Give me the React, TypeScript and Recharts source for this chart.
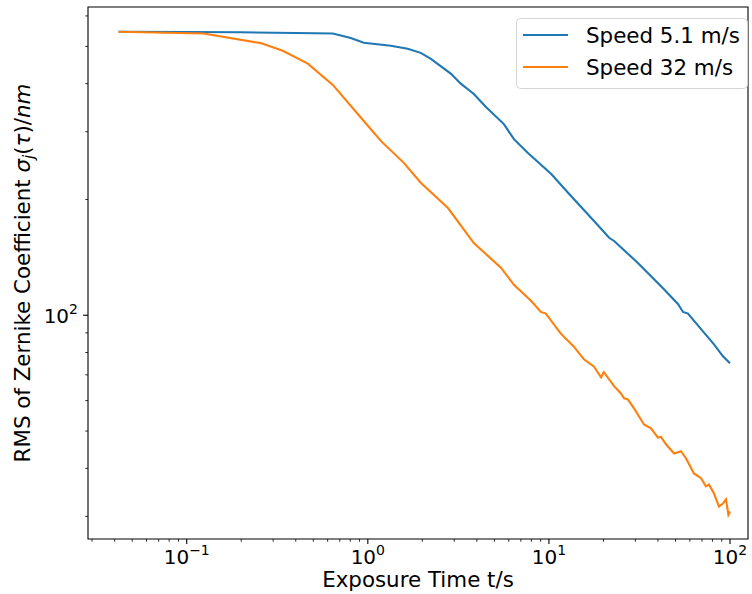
import { LineChart, Line, XAxis, YAxis, ReferenceArea, Legend } from "recharts";

const FONT = "DejaVu Sans";
const BLUE = "#1f77b4";
const ORANGE = "#ff7f0e";

// exposure time (s) and RMS (nm)
const slowT = [0.042, 0.1, 0.2, 0.4, 0.641, 0.805, 0.95, 1.34, 1.66, 1.96, 2.23, 2.87, 3.26, 3.85, 4.49, 5.64, 6.41, 7.66, 10.3, 12.9, 17.7, 21.5, 22.9, 31.4, 41.6, 51.6, 55, 58.6, 69.2, 81.6, 91.4, 100];
const slowV = [546, 545, 544, 542, 540, 526, 511, 502, 493, 481, 464, 425, 400, 376, 348, 314, 287, 264, 233, 207, 176, 159, 156, 136, 119, 107, 102, 101, 92, 84, 78.2, 75];

const fastT = [0.042, 0.124, 0.256, 0.339, 0.466, 0.641, 0.95, 1.18, 1.58, 1.96, 2.77, 3.85, 5.43, 6.41, 7.96, 9.03, 9.62, 11.6, 13.7, 15.6, 17.7, 19.4, 20.1, 22.9, 25.0, 26.0, 27.3, 29.5, 33.5, 36.6, 40.0, 41.6, 44.3, 49.1, 53.6, 57.1, 63.2, 69.2, 73.6, 76.5, 81.6, 86.9, 91.4, 95.0, 98.0, 100];
const fastV = [546, 540, 510, 487, 451, 397, 320, 284, 249, 221, 190, 154, 133, 120, 109, 102, 101, 89.7, 83, 76.8, 73.6, 69.0, 71.1, 65.4, 62.6, 60.8, 60.4, 57.3, 52.0, 50.8, 48.1, 48.3, 46.2, 43.7, 44.3, 42.5, 38.8, 37.7, 35.9, 36.3, 34.4, 31.8, 32.4, 33.2, 30.3, 30.9];

const xTicks = [0.03, 0.04, 0.05, 0.06, 0.07, 0.08, 0.09, 0.1, 0.2, 0.3, 0.4, 0.5, 0.6, 0.7, 0.8, 0.9, 1, 2, 3, 4, 5, 6, 7, 8, 9, 10, 20, 30, 40, 50, 60, 70, 80, 90, 100];
const yTicks = [30, 40, 50, 60, 70, 80, 90, 100, 200, 300, 400, 500, 600];

const seriesNames = ["Speed 5.1 m/s", "Speed 32 m/s"];

const slow = slowT.map((t, i) => ({ t, v: slowV[i] }));
const fast = fastT.map((t, i) => ({ t, v: fastV[i] }));

const X_DOMAIN: [number, number] = [0.0285, 125.7];
const Y_DOMAIN: [number, number] = [26.2, 633];

const isMajor = (v: number) => Math.abs(Math.log10(v) - Math.round(Math.log10(v))) < 1e-6;
const expText = (v: number) => String(Math.round(Math.log10(v))).replace("-", "\u2212");

function XTick(props: any) {
  const { x, y, payload } = props;
  const major = isMajor(payload.value);
  return (
    <g>
      <line x1={x} x2={x} y1={y} y2={y + (major ? 4.9 : 2.8)} stroke="#000" strokeWidth={major ? 1.1 : 0.8} />
      {major && (
        <text x={x} y={y + 24.5} textAnchor="middle" fontFamily={FONT} fontSize={20} fill="#000">
          <tspan>10</tspan>
          <tspan dy={-8.5} fontSize={14}>{expText(payload.value)}</tspan>
        </text>
      )}
    </g>
  );
}

function YTick(props: any) {
  const { x, y, payload } = props;
  const major = isMajor(payload.value);
  return (
    <g>
      <line x1={x} x2={x - (major ? 4.9 : 2.8)} y1={y} y2={y} stroke="#000" strokeWidth={major ? 1.1 : 0.8} />
      {major && (
        <text x={x - 10} y={y + 7.5} textAnchor="end" fontFamily={FONT} fontSize={20} fill="#000">
          <tspan>10</tspan>
          <tspan dy={-8.5} fontSize={14}>{expText(payload.value)}</tspan>
        </text>
      )}
    </g>
  );
}

function LegendBox() {
  const colors = [BLUE, ORANGE];
  return (
    <svg width={232} height={71} style={{ display: "block" }}>
      <rect x={0.5} y={0.5} width={231} height={70} rx={4} fill="#fff" fillOpacity={0.8} stroke="#d5d5d5" strokeWidth={1} />
      {seriesNames.map((name, i) => (
        <g key={name}>
          <line x1={7} x2={52} y1={17 + i * 32} y2={17 + i * 32} stroke={colors[i]} strokeWidth={2.1} />
          <text x={70} y={24.5 + i * 32} fontFamily={FONT} fontSize={21.4} fill="#000">{name}</text>
        </g>
      ))}
    </svg>
  );
}

export default function App() {
  return (
    <div style={{ position: "absolute", left: 0, top: 0, width: 752, height: 594, background: "#fff" }}>
      <LineChart width={752} height={594} margin={{ top: 7, right: 4, bottom: 0, left: 0 }}>
        <XAxis
          dataKey="t"
          type="number"
          scale="log"
          domain={X_DOMAIN}
          allowDataOverflow
          ticks={xTicks}
          interval={0}
          tick={<XTick />}
          tickLine={false}
          axisLine={false}
          tickSize={0}
          tickMargin={0}
          height={55}
          label={{
            content: (p: any) => (
              <text x={p.viewBox.x + p.viewBox.width / 2} y={p.viewBox.y + 48} textAnchor="middle" fontFamily={FONT} fontSize={21.4} fill="#000">
                Exposure Time t/s
              </text>
            ),
          }}
        />
        <YAxis
          dataKey="v"
          type="number"
          scale="log"
          domain={Y_DOMAIN}
          allowDataOverflow
          ticks={yTicks}
          interval={0}
          tick={<YTick />}
          tickLine={false}
          axisLine={false}
          tickSize={0}
          tickMargin={0}
          width={88}
          label={{
            content: (p: any) => {
              const cx = 30;
              const cy = p.viewBox.y + p.viewBox.height / 2;
              return (
                <text x={cx} y={cy} transform={`rotate(-90, ${cx}, ${cy})`} textAnchor="middle" fontFamily={FONT} fontSize={21.4} fill="#000">
                  <tspan>RMS of Zernike Coefficient </tspan>
                  <tspan fontStyle="italic">σ</tspan>
                  <tspan fontStyle="italic" fontSize={15} dy={4}>j</tspan>
                  <tspan dy={-4}>(</tspan>
                  <tspan fontStyle="italic">τ</tspan>
                  <tspan>)/</tspan>
                  <tspan fontStyle="italic">nm</tspan>
                </text>
              );
            },
          }}
        />
        <Line data={slow} dataKey="v" name={seriesNames[0]} stroke={BLUE} strokeWidth={2.1} dot={false} isAnimationActive={false} />
        <Line data={fast} dataKey="v" name={seriesNames[1]} stroke={ORANGE} strokeWidth={2.1} dot={false} isAnimationActive={false} />
        <ReferenceArea x1={X_DOMAIN[0]} x2={X_DOMAIN[1]} y1={Y_DOMAIN[0]} y2={Y_DOMAIN[1]} fill="none" stroke="#000" strokeWidth={1.1} fillOpacity={0} strokeOpacity={1} />
        <Legend
          layout="horizontal"
          verticalAlign="middle"
          align="center"
          content={() => <LegendBox />}
          wrapperStyle={{ position: "absolute", left: 516, top: 18, width: 232, height: 71 }}
        />
      </LineChart>
    </div>
  );
}
